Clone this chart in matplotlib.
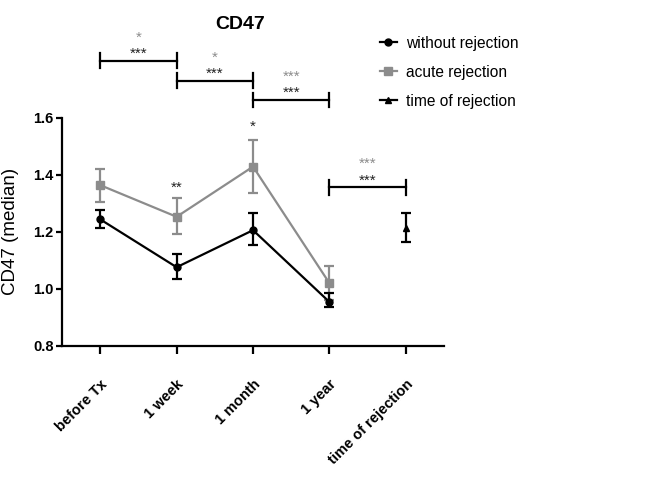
import matplotlib.pyplot as plt
from matplotlib.lines import Line2D
import numpy as np

plt.rcParams['font.family'] = ['Liberation Sans', 'DejaVu Sans']

categories = ['before Tx', '1 week', '1 month', '1 year', 'time of rejection']

# without rejection (black)
no_rej = [1.243, 1.075, 1.205, 0.953]
no_rej_hi = [1.275, 1.121, 1.264, 0.985]
no_rej_lo = [1.211, 1.033, 1.152, 0.937]

# acute rejection (gray)
acute = [1.363, 1.252, 1.428, 1.019]
acute_hi = [1.421, 1.318, 1.520, 1.080]
acute_lo = [1.304, 1.190, 1.336, 0.960]

# time of rejection
tor = [1.211]
tor_hi = [1.267]
tor_lo = [1.163]

# significance brackets: (start, end, height, gray stars, black stars)
brackets = [(0, 1, 1.80, '*', '***'),
            (1, 2, 1.73, '*', '***'),
            (2, 3, 1.663, '***', '***'),
            (3, 4, 1.355, '***', '***')]
point_stars = [(1, 1.33, '**'), (2, 1.545, '*')]

gray = '#8c8c8c'

fig = plt.figure(figsize=(6.53, 4.82), dpi=100)
ax = fig.add_axes([0.095, 0.283, 0.585, 0.473])

x = np.arange(len(categories))


def yerr(v, lo, hi):
    return [np.array(v) - np.array(lo), np.array(hi) - np.array(v)]


ax.errorbar(x[:4], acute, yerr=yerr(acute, acute_lo, acute_hi), color=gray, marker='s',
            markersize=6, lw=1.6, capsize=3.5, capthick=1.6, elinewidth=1.6, zorder=2)
ax.errorbar(x[:4], no_rej, yerr=yerr(no_rej, no_rej_lo, no_rej_hi), color='black', marker='o',
            markersize=5, lw=1.6, capsize=3.5, capthick=1.6, elinewidth=1.6, zorder=3)
ax.errorbar(x[4:], tor, yerr=yerr(tor, tor_lo, tor_hi), color='black', marker='^',
            markersize=5, lw=1.6, capsize=3.5, capthick=1.6, elinewidth=1.6, zorder=3)

for x0, x1, h, s_gray, s_black in brackets:
    ax.plot([x0, x1], [h, h], color='black', lw=1.6, clip_on=False)
    ax.plot([x0, x0], [h - 0.025, h + 0.025], color='black', lw=1.6, clip_on=False)
    ax.plot([x1, x1], [h - 0.025, h + 0.025], color='black', lw=1.6, clip_on=False)
    xm = (x0 + x1) / 2
    ax.text(xm, h + 0.0, s_black, ha='center', va='bottom', fontsize=11,
            color='#222222', clip_on=False)
    ax.text(xm, h + 0.057, s_gray, ha='center', va='bottom', fontsize=11,
            color=gray, clip_on=False)

for xi, h, s in point_stars:
    ax.text(xi, h, s, ha='center', va='bottom', fontsize=11, color='#222222', clip_on=False)

ax.set_xlim(-0.5, 4.5)
ax.set_ylim(0.8, 1.6)
ax.set_yticks([0.8, 1.0, 1.2, 1.4, 1.6])
ax.set_yticklabels(['0.8', '1.0', '1.2', '1.4', '1.6'], fontweight='bold', fontsize=10.5)
ax.set_xticks(x)
ax.set_xticklabels(categories, rotation=45, ha='right', rotation_mode='anchor',
                   fontweight='bold', fontsize=10.5)
ax.tick_params(axis='x', length=6, width=1.6, pad=17)
ax.tick_params(axis='y', length=4, width=1.6, pad=2)
for side in ['top', 'right']:
    ax.spines[side].set_visible(False)
for side in ['left', 'bottom']:
    ax.spines[side].set_linewidth(1.6)
ax.set_ylabel('CD47 (median)', fontsize=13.5, labelpad=10)

fig.text(0.368, 0.95, 'CD47', ha='center', va='center', fontsize=14, fontweight='bold')

handles = [Line2D([], [], color='black', marker='o', markersize=5, lw=1.6),
           Line2D([], [], color=gray, marker='s', markersize=6, lw=1.6),
           Line2D([], [], color='black', marker='^', markersize=5, lw=1.6)]
labels = ['without rejection', 'acute rejection', 'time of rejection']
fig.legend(handles, labels, loc='upper left', bbox_to_anchor=(0.56, 0.955), frameon=False,
           fontsize=11.2, handlelength=1.1, handletextpad=0.6, labelspacing=0.9)

fig.savefig('out.png', dpi=100)
